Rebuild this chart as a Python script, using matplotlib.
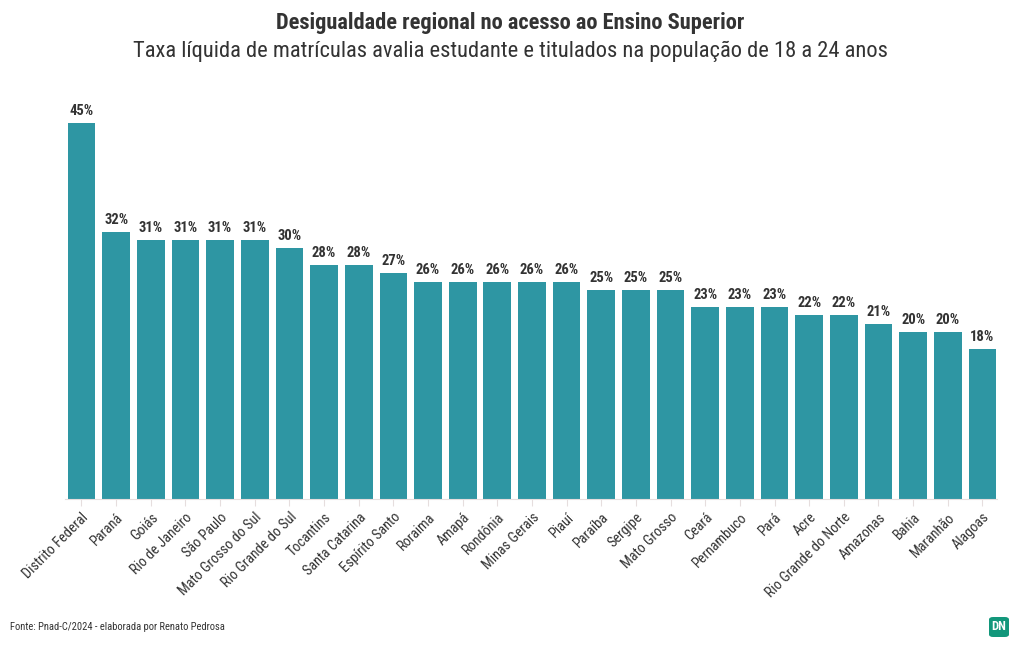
import matplotlib
matplotlib.use("Agg")
import matplotlib.pyplot as plt
from matplotlib.patches import FancyBboxPatch
from matplotlib import font_manager

# font: prefer a condensed face if present
names = {f.name for f in font_manager.fontManager.ttflist}
fam = "Roboto Condensed" if "Roboto Condensed" in names else "Roboto"
plt.rcParams['font.family'] = [fam, 'DejaVu Sans']

estados = ["Distrito Federal", "Paraná", "Goiás", "Rio de Janeiro", "São Paulo",
           "Mato Grosso do Sul", "Rio Grande do Sul", "Tocantins", "Santa Catarina",
           "Espírito Santo", "Roraima", "Amapá", "Rondônia", "Minas Gerais", "Piauí",
           "Paraíba", "Sergipe", "Mato Grosso", "Ceará", "Pernambuco", "Pará", "Acre",
           "Rio Grande do Norte", "Amazonas", "Bahia", "Maranhão", "Alagoas"]
taxa = [45, 32, 31, 31, 31, 31, 30, 28, 28, 27, 26, 26, 26, 26, 26,
        25, 25, 25, 23, 23, 23, 22, 22, 21, 20, 20, 18]

cor = "#2e96a3"
texto = "#333333"

fig = plt.figure(figsize=(10.2, 6.5), dpi=100)
ax = fig.add_axes([65 / 1020, 1 - 499 / 650, (997 - 65) / 1020, 401 / 650])

x = range(len(estados))
ax.bar(x, taxa, width=0.8, color=cor)
for i, v in zip(x, taxa):
    ax.text(i, v + 0.6, f"{v}%", ha="center", va="bottom", fontsize=10.5,
            fontweight="bold", color=texto)

ax.set_xlim(-0.476, len(estados) - 1 + 0.42)
ax.set_ylim(0, 48)
ax.set_yticks([])
for s in ["top", "right", "left"]:
    ax.spines[s].set_visible(False)
ax.spines["bottom"].set_color("#e6dede")
ax.set_xticks(list(x))
ax.set_xticklabels(estados, rotation=45, ha="right", rotation_mode="anchor",
                   fontsize=10.3, color=texto)
ax.tick_params(axis="x", length=5, color="#e6dede", pad=3)

fig.text(0.5, 1 - 23 / 650, "Desigualdade regional no acesso ao Ensino Superior",
         ha="center", va="center", fontsize=16.1, fontweight="bold", color=texto)
fig.text(0.5, 1 - 51 / 650,
         "Taxa líquida de matrículas avalia estudante e titulados na população de 18 a 24 anos",
         ha="center", va="center", fontsize=16.2, color=texto)
fig.text(10 / 1020, 1 - 627 / 650, "Fonte: Pnad-C/2024 - elaborada por Renato Pedrosa",
         ha="left", va="center", fontsize=7.6, color=texto)

# logo
lx, ly, lw, lh = 989 / 1020, 1 - 637 / 650, 20 / 1020, 20 / 650
logo = FancyBboxPatch((lx, ly), lw, lh, boxstyle="round,pad=0,rounding_size=0.004",
                      transform=fig.transFigure, facecolor="#12977b", edgecolor="none")
fig.patches.append(logo)
fig.text(lx + lw / 2, ly + lh / 2, "DN", ha="center", va="center", fontsize=9,
         fontweight="bold", color="white")

fig.savefig("out.png", dpi=100)
